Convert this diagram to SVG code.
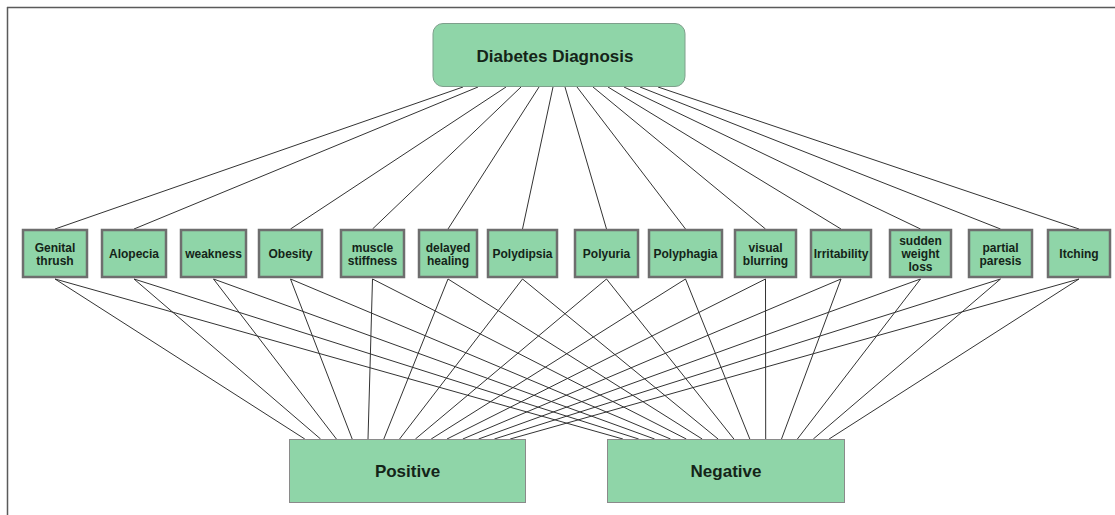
<svg xmlns="http://www.w3.org/2000/svg" width="1115" height="515" viewBox="0 0 1115 515">
<style>
.frame{stroke:#5a5a5a;stroke-width:1.5;fill:none}
.conn line{stroke:#333;stroke-width:1}
.sym{fill:#8fd5a8;stroke:#6e6e6e;stroke-width:2.5}
.big{fill:#8fd5a8;stroke:#8a8a8a;stroke-width:1}
.t{font-family:"Liberation Sans",Arial,sans-serif;font-weight:bold;fill:#142418;text-anchor:middle}
.s{font-size:12px}
.l{font-size:17px}
</style>
<rect width="1115" height="515" fill="#fff"/>
<line class="frame" x1="7" y1="7.5" x2="1115" y2="7.5"/>
<line class="frame" x1="7.5" y1="7" x2="7.5" y2="515"/>
<g class="conn" id="connectors">
<line x1="463" y1="87" x2="55" y2="229"/>
<line x1="478" y1="87" x2="134" y2="229"/>
<line x1="506" y1="87" x2="290.5" y2="229"/>
<line x1="521" y1="87" x2="372.5" y2="229"/>
<line x1="539" y1="87" x2="448" y2="229"/>
<line x1="553" y1="87" x2="522.5" y2="229"/>
<line x1="565" y1="87" x2="606.5" y2="229"/>
<line x1="577" y1="87" x2="685.5" y2="229"/>
<line x1="593" y1="87" x2="765.5" y2="229"/>
<line x1="608" y1="87" x2="841" y2="229"/>
<line x1="624" y1="87" x2="920.5" y2="229"/>
<line x1="640" y1="87" x2="1000.5" y2="229"/>
<line x1="658" y1="87" x2="1079" y2="229"/>
<line x1="55" y1="279" x2="304.8" y2="439"/>
<line x1="134" y1="279" x2="320.6" y2="439"/>
<line x1="213.5" y1="279" x2="336.4" y2="439"/>
<line x1="290.5" y1="279" x2="352.2" y2="439"/>
<line x1="372.5" y1="279" x2="368" y2="439"/>
<line x1="448" y1="279" x2="383.8" y2="439"/>
<line x1="522.5" y1="279" x2="399.6" y2="439"/>
<line x1="606.5" y1="279" x2="415.4" y2="439"/>
<line x1="685.5" y1="279" x2="431.2" y2="439"/>
<line x1="765.5" y1="279" x2="447" y2="439"/>
<line x1="841" y1="279" x2="462.8" y2="439"/>
<line x1="920.5" y1="279" x2="478.6" y2="439"/>
<line x1="1000.5" y1="279" x2="494.4" y2="439"/>
<line x1="1079" y1="279" x2="510.2" y2="439"/>
<line x1="55" y1="279" x2="622.9" y2="439"/>
<line x1="134" y1="279" x2="638.7" y2="439"/>
<line x1="213.5" y1="279" x2="654.6" y2="439"/>
<line x1="290.5" y1="279" x2="670.5" y2="439"/>
<line x1="372.5" y1="279" x2="686.3" y2="439"/>
<line x1="448" y1="279" x2="702.2" y2="439"/>
<line x1="522.5" y1="279" x2="718.1" y2="439"/>
<line x1="606.5" y1="279" x2="733.9" y2="439"/>
<line x1="685.5" y1="279" x2="749.8" y2="439"/>
<line x1="765.5" y1="279" x2="765.7" y2="439"/>
<line x1="841" y1="279" x2="781.5" y2="439"/>
<line x1="920.5" y1="279" x2="797.4" y2="439"/>
<line x1="1000.5" y1="279" x2="813.3" y2="439"/>
<line x1="1079" y1="279" x2="829.1" y2="439"/>
</g>
<g id="diagnosis">
<rect x="433" y="23.5" width="252" height="63" rx="10" fill="#8fd5a8" stroke="#7f9f8c" stroke-width="1"/>
<text class="t l" x="555" y="62">Diabetes Diagnosis</text>
</g>
<g id="genital-thrush"><rect class="sym" x="23" y="230" width="64" height="47"/><text class="t s" x="55" y="252">Genital</text><text class="t s" x="55" y="265">thrush</text></g>
<g id="alopecia"><rect class="sym" x="102" y="230" width="64" height="47"/><text class="t s" x="134" y="258">Alopecia</text></g>
<g id="weakness"><rect class="sym" x="181" y="230" width="65" height="47"/><text class="t s" x="213.5" y="258">weakness</text></g>
<g id="obesity"><rect class="sym" x="259" y="230" width="63" height="47"/><text class="t s" x="290.5" y="258">Obesity</text></g>
<g id="muscle-stiffness"><rect class="sym" x="341" y="230" width="63" height="47"/><text class="t s" x="372.5" y="252">muscle</text><text class="t s" x="372.5" y="265">stiffness</text></g>
<g id="delayed-healing"><rect class="sym" x="419" y="230" width="58" height="47"/><text class="t s" x="448" y="252">delayed</text><text class="t s" x="448" y="265">healing</text></g>
<g id="polydipsia"><rect class="sym" x="488" y="230" width="69" height="47"/><text class="t s" x="522.5" y="258">Polydipsia</text></g>
<g id="polyuria"><rect class="sym" x="575" y="230" width="63" height="47"/><text class="t s" x="606.5" y="258">Polyuria</text></g>
<g id="polyphagia"><rect class="sym" x="649" y="230" width="73" height="47"/><text class="t s" x="685.5" y="258">Polyphagia</text></g>
<g id="visual-blurring"><rect class="sym" x="735" y="230" width="61" height="47"/><text class="t s" x="765.5" y="252">visual</text><text class="t s" x="765.5" y="265">blurring</text></g>
<g id="irritability"><rect class="sym" x="811" y="230" width="60" height="47"/><text class="t s" x="841" y="258">Irritability</text></g>
<g id="sudden-weight-loss"><rect class="sym" x="890" y="230" width="61" height="47"/><text class="t s" x="920.5" y="245">sudden</text><text class="t s" x="920.5" y="258">weight</text><text class="t s" x="920.5" y="271">loss</text></g>
<g id="partial-paresis"><rect class="sym" x="969" y="230" width="63" height="47"/><text class="t s" x="1000.5" y="252">partial</text><text class="t s" x="1000.5" y="265">paresis</text></g>
<g id="itching"><rect class="sym" x="1048" y="230" width="62" height="47"/><text class="t s" x="1079" y="258">Itching</text></g>
<g id="positive"><rect class="big" x="289.5" y="439.5" width="236" height="63"/><text class="t l" x="407.5" y="477">Positive</text></g>
<g id="negative"><rect class="big" x="607.5" y="439.5" width="237" height="63"/><text class="t l" x="726" y="477">Negative</text></g>
</svg>
